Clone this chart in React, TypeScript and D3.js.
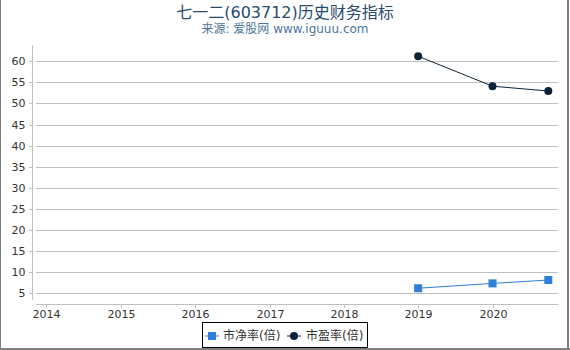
import React from "react";
import * as d3 from "d3";

const title = "七一二(603712)历史财务指标";
const subtitle = "来源: 爱股网 www.iguuu.com";
const dates = ["2018-12-31", "2019-12-31", "2020-09-30"];
const pbValues = [6.2, 7.35, 8.15];
const peValues = [61.2, 54.1, 52.95];
const yTicks = [5, 10, 15, 20, 25, 30, 35, 40, 45, 50, 55, 60];
const xTickYears = [2014, 2015, 2016, 2017, 2018, 2019, 2020];
const seriesNames = ["市净率(倍)", "市盈率(倍)"];
const colors = ["#2f7ed8", "#0d233a"];

const W = 570;
const H = 350;
const font = "'DejaVu Sans', 'Noto Sans CJK SC', sans-serif";

export default function App() {
  const parse = d3.timeParse("%Y-%m-%d");
  const x = d3
    .scaleTime()
    .domain([parse("2013-11-11")!, parse("2020-11-18")!])
    .range([36, 558.3]);
  const y = d3.scaleLinear().domain([0, 60]).range([314.4, 61.3]);
  const pts = dates.map((d) => parse(d)!);
  const line = d3
    .line<[Date, number]>()
    .x((d) => x(d[0]))
    .y((d) => y(d[1]));
  const pb: [Date, number][] = pts.map((d, i) => [d, pbValues[i]]);
  const pe: [Date, number][] = pts.map((d, i) => [d, peValues[i]]);

  return (
    <svg
      width={W}
      height={H}
      style={{ position: "absolute", left: 0, top: 0, fontFamily: font }}
    >
      <rect x={0} y={0} width={W} height={H} fill="#ffffff" />
      {/* frame */}
      <line x1={0.5} y1={0} x2={0.5} y2={H} stroke="#808080" strokeWidth={1} />
      <line x1={568} y1={0} x2={568} y2={H} stroke="#808080" strokeWidth={2} />
      <line x1={0} y1={349} x2={W} y2={349} stroke="#808080" strokeWidth={2} />

      <text x={285} y={17.5} textAnchor="middle" fontSize={16} fill="#274b6d">
        {title}
      </text>
      <text x={285} y={33} textAnchor="middle" fontSize={12} fill="#4d759e">
        {subtitle}
      </text>

      {/* grid */}
      {yTicks.map((t) => (
        <g key={t}>
          <line
            x1={36}
            x2={558}
            y1={Math.round(y(t)) + 0.5}
            y2={Math.round(y(t)) + 0.5}
            stroke="#c0c0c0"
            strokeWidth={1}
          />
          <line
            x1={29}
            x2={32}
            y1={Math.round(y(t)) + 0.5}
            y2={Math.round(y(t)) + 0.5}
            stroke="#c0c0c0"
          />
          <text
            x={25.5}
            y={y(t) + 4}
            textAnchor="end"
            fontSize={11}
            fill="#333333"
          >
            {t}
          </text>
        </g>
      ))}
      {/* y axis line */}
      <line x1={32.5} x2={32.5} y1={45} y2={300} stroke="#c0c0c0" />
      {/* x axis line */}
      <line x1={36} x2={558.3} y1={304.5} y2={304.5} stroke="#c0c0c0" />
      {xTickYears.map((yr) => {
        const xx = Math.round(x(new Date(yr, 0, 1))) + 0.5;
        return (
          <g key={yr}>
            <line x1={xx} x2={xx} y1={304.5} y2={308} stroke="#c0c0c0" />
            <text
              x={xx}
              y={318}
              textAnchor="middle"
              fontSize={11}
              fill="#333333"
            >
              {yr}
            </text>
          </g>
        );
      })}

      {/* series */}
      <path d={line(pb) || ""} fill="none" stroke={colors[0]} strokeWidth={1} />
      <path d={line(pe) || ""} fill="none" stroke={colors[1]} strokeWidth={1} />
      {pb.map((d, i) => (
        <rect
          key={i}
          x={x(d[0]) - 4}
          y={y(d[1]) - 4}
          width={8}
          height={8}
          fill={colors[0]}
        />
      ))}
      {pe.map((d, i) => (
        <circle key={i} cx={x(d[0])} cy={y(d[1])} r={4} fill={colors[1]} />
      ))}

      {/* legend */}
      <rect
        x={202.5}
        y={322.5}
        width={165}
        height={25}
        fill="#ffffff"
        stroke="#000000"
        strokeWidth={1}
      />
      <line x1={205} x2={219} y1={336} y2={336} stroke={colors[0]} strokeWidth={1} />
      <rect x={208} y={332} width={8} height={8} fill={colors[0]} />
      <text x={223} y={340} fontSize={12} fill="#333333">
        {seriesNames[0]}
      </text>
      <line x1={287} x2={301} y1={336} y2={336} stroke={colors[1]} strokeWidth={1} />
      <circle cx={294} cy={336} r={4} fill={colors[1]} />
      <text x={306} y={340} fontSize={12} fill="#333333">
        {seriesNames[1]}
      </text>
    </svg>
  );
}
